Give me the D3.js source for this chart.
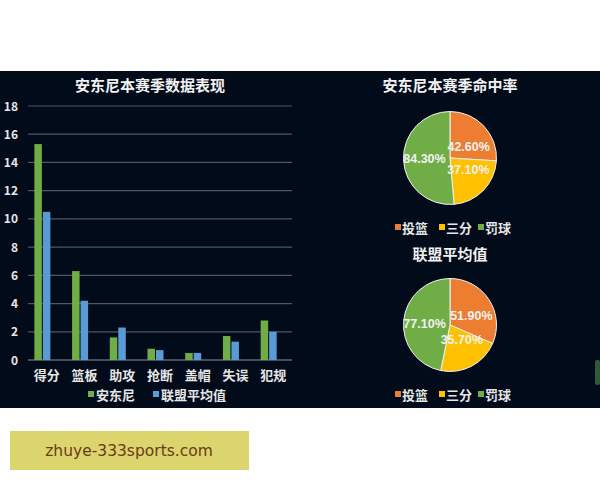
<!DOCTYPE html>
<html>
<head>
<meta charset="utf-8">
<script src="https://cdn.jsdelivr.net/npm/d3@7"></script>
<style>
  body { margin: 0; background: #fff; }
  svg { display: block; font-family: "Noto Sans CJK SC", "Noto Sans", sans-serif; }
</style>
</head>
<body>
<svg id="chart" width="600" height="480"></svg>
<script>
// bar chart data
const categories = ["得分", "篮板", "助攻", "抢断", "盖帽", "失误", "犯规"];
const seriesNames = ["安东尼", "联盟平均值"];
const anthony = [15.3, 6.3, 1.6, 0.8, 0.5, 1.7, 2.8];
const leagueAvg = [10.5, 4.2, 2.3, 0.7, 0.5, 1.3, 2.0];
const yTicks = [0, 2, 4, 6, 8, 10, 12, 14, 16, 18];

// pie chart data
const shotTypes = ["投篮", "三分", "罚球"];
const anthonyPct = [42.6, 37.1, 84.3];
const leaguePct = [51.9, 35.7, 77.1];

const svg = d3.select("#chart");

// dark panel
svg.append("rect")
    .attr("x", 0).attr("y", 71)
    .attr("width", 600).attr("height", 337)
    .attr("fill", "#020b1a");

let barColor = d3.scaleOrdinal().domain(seriesNames).range(["#70ad47", "#5b9bd5"]);
let pieColor = d3.scaleOrdinal().domain(shotTypes).range(["#ed7d31", "#ffc000", "#70ad47"]);

// ---------------- bar chart ----------------
let margin = {top: 106, left: 28, right: 308, bottom: 120};
let width = 600 - margin.left - margin.right;
let height = 480 - margin.top - margin.bottom; // 254
let g = svg.append("g").attr("transform", `translate(${margin.left}, ${margin.top})`);

let x = d3.scaleBand().domain(categories).range([0, width]);
let y = d3.scaleLinear().domain([0, 18]).range([height, 0]);

svg.append("text")
    .attr("x", 150).attr("y", 91)
    .attr("text-anchor", "middle")
    .attr("fill", "#f2f2f2")
    .attr("font-size", 15).attr("font-weight", "bold")
    .text("安东尼本赛季数据表现");

// gridlines
g.append("g")
    .selectAll("line")
    .data(yTicks)
    .enter().append("line")
    .attr("x1", 0).attr("x2", width)
    .attr("y1", d => y(d)).attr("y2", d => y(d))
    .attr("stroke", (d) => d === 0 ? "#8a8f99" : "#4f5664")
    .attr("stroke-width", 1.2);

// y axis labels
g.append("g")
    .selectAll("text")
    .data(yTicks)
    .enter().append("text")
    .attr("x", -10).attr("y", d => y(d) + 4.5)
    .attr("text-anchor", "end")
    .attr("fill", "#e6e6e6")
    .attr("font-size", 12).attr("font-weight", "bold")
    .text(d => d);

// bars (the pair sits a little left of the category centre, as in the original)
let rows = categories.map((c, i) => ({cat: c, vals: [anthony[i], leagueAvg[i]]}));
const BAR_W = 7.5;
const PAIR_SHIFT = -4.5;
g.append("g")
    .selectAll("g")
    .data(rows)
    .enter().append("g")
    .attr("transform", d => `translate(${x(d.cat) + x.bandwidth() / 2 + PAIR_SHIFT}, 0)`)
    .selectAll("rect")
    .data(d => d.vals.map((v, j) => ({name: seriesNames[j], v, j})))
    .enter().append("rect")
        .attr("x", d => d.j === 0 ? -BAR_W - 0.5 : 0.5)
        .attr("y", d => y(d.v))
        .attr("width", BAR_W)
        .attr("height", d => height - y(d.v))
        .attr("fill", d => barColor(d.name));

// category labels
g.append("g")
    .selectAll("text")
    .data(categories)
    .enter().append("text")
    .attr("x", d => x(d) + x.bandwidth() / 2)
    .attr("y", height + 20)
    .attr("text-anchor", "middle")
    .attr("fill", "#e6e6e6")
    .attr("font-size", 13).attr("font-weight", "bold")
    .text(d => d);

// bar legend
let legendX = [88, 153];
let legend = svg.append("g").attr("transform", "translate(0, 395)");
let lg = legend.selectAll("g")
    .data(seriesNames)
    .enter().append("g")
    .attr("transform", (d, i) => `translate(${legendX[i]}, 0)`);
lg.append("rect")
    .attr("x", 0).attr("y", -4)
    .attr("width", 6).attr("height", 6)
    .attr("fill", d => barColor(d));
lg.append("text")
    .attr("x", 8).attr("y", 4.5)
    .attr("fill", "#e6e6e6")
    .attr("font-size", 13).attr("font-weight", "bold")
    .text(d => d);

// ---------------- pies ----------------
function drawPie(cx, cy, title, titleY, values, legendY) {
    svg.append("text")
        .attr("x", cx).attr("y", titleY)
        .attr("text-anchor", "middle")
        .attr("fill", "#f2f2f2")
        .attr("font-size", 15).attr("font-weight", "bold")
        .text(title);

    let r = 46.5;
    let data = shotTypes.map((t, i) => ({type: t, v: values[i]}));
    let arcs = d3.pie().sort(null).value(d => d.v)(data);
    let arc = d3.arc().innerRadius(0).outerRadius(r);
    // labels: horizontal position further out, vertical flattened (like excel best fit)
    let labelX = d3.arc().innerRadius(r * 0.55).outerRadius(r * 0.55);
    let labelY = d3.arc().innerRadius(r * 0.35).outerRadius(r * 0.35);

    let pg = svg.append("g").attr("transform", `translate(${cx}, ${cy})`);
    pg.selectAll("path")
        .data(arcs)
        .enter().append("path")
        .attr("d", arc)
        .attr("fill", d => pieColor(d.data.type))
        .attr("stroke", "#f2f2f2")
        .attr("stroke-width", 1);
    pg.selectAll("text")
        .data(arcs)
        .enter().append("text")
        .attr("x", d => labelX.centroid(d)[0])
        .attr("y", d => labelY.centroid(d)[1])
        .attr("dy", "0.35em")
        .attr("text-anchor", "middle")
        .attr("fill", "#f2f2f2")
        .attr("font-size", 12.5).attr("font-weight", "bold")
        .attr("font-family", "'Liberation Sans', Arial, sans-serif")
        .text(d => d.data.v.toFixed(2) + "%");

    let lx = [395, 439, 478];
    let l = svg.append("g").attr("transform", `translate(0, ${legendY})`)
        .selectAll("g")
        .data(shotTypes)
        .enter().append("g")
        .attr("transform", (d, i) => `translate(${lx[i]}, 0)`);
    l.append("rect")
        .attr("x", 0).attr("y", -4)
        .attr("width", 6).attr("height", 6)
        .attr("fill", d => pieColor(d));
    l.append("text")
        .attr("x", 7).attr("y", 4.5)
        .attr("fill", "#e6e6e6")
        .attr("font-size", 13).attr("font-weight", "bold")
        .text(d => d);
}

drawPie(450, 158, "安东尼本赛季命中率", 91, anthonyPct, 228);
drawPie(450, 325, "联盟平均值", 260, leaguePct, 395);

// small scroll widget at right edge
svg.append("rect")
    .attr("x", 595).attr("y", 360)
    .attr("width", 5).attr("height", 25)
    .attr("rx", 2)
    .attr("fill", "#2f5a3a");

// watermark box
svg.append("rect")
    .attr("x", 10).attr("y", 431)
    .attr("width", 239).attr("height", 39)
    .attr("fill", "#dcd46c");
svg.append("text")
    .attr("x", 129).attr("y", 456)
    .attr("text-anchor", "middle")
    .attr("fill", "#6b3a1a")
    .attr("font-size", 15.5)
    .attr("font-family", "'DejaVu Sans', sans-serif")
    .text("zhuye-333sports.com");
</script>
</body>
</html>
